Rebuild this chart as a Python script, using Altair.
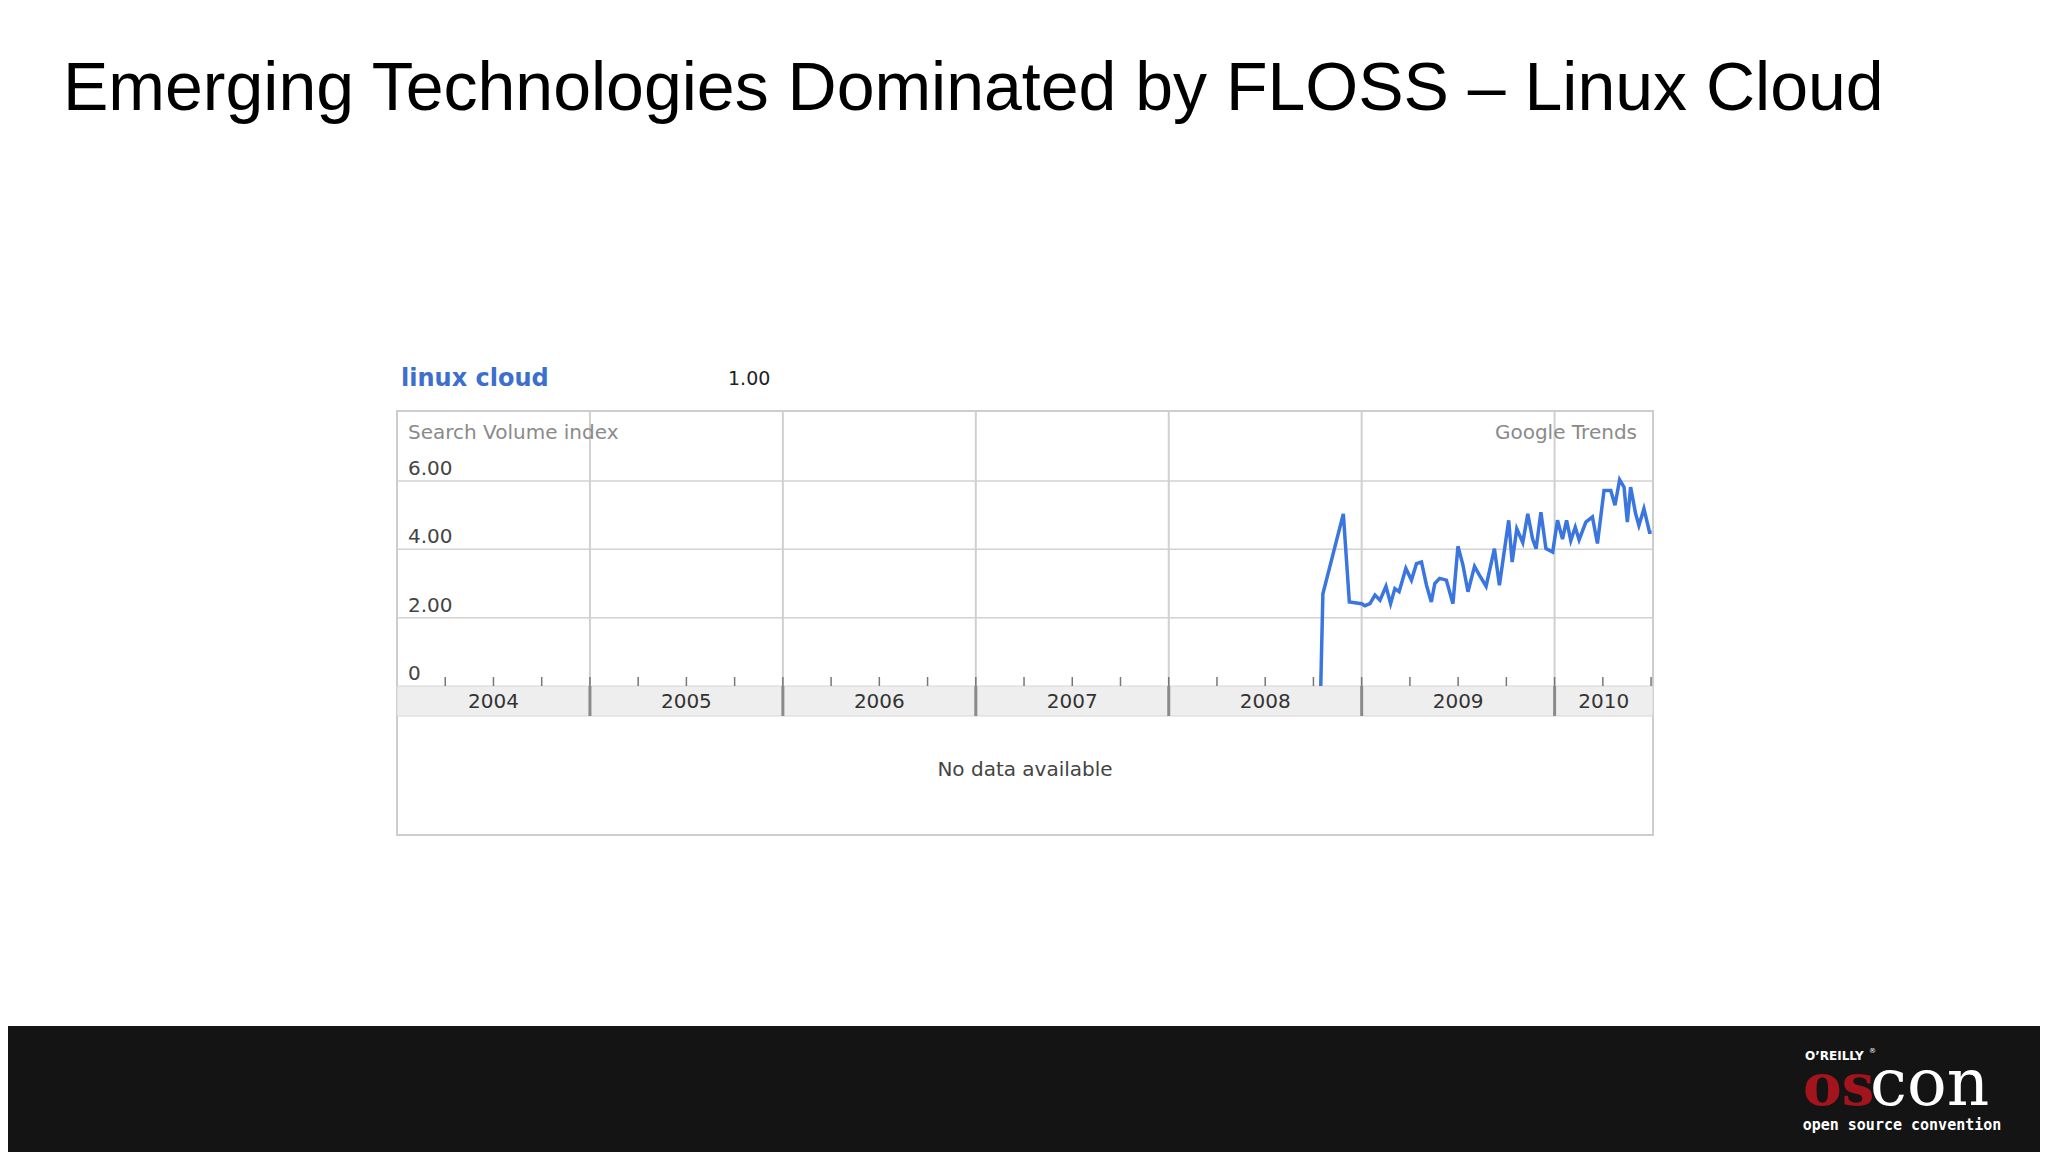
import altair as alt
import pandas as pd

# ---------------- data ----------------
year_starts = [2004, 2005, 2006, 2007, 2008, 2009, 2010]
year_ends = [2005, 2006, 2007, 2008, 2009, 2010, 2010.51]
year_labels = ["2004", "2005", "2006", "2007", "2008", "2009", "2010"]
year_boundaries = [2005, 2006, 2007, 2008, 2009, 2010]
quarter_ticks = [y + q / 4 for y in range(2004, 2011) for q in range(0, 4) if 2004 < y + q / 4 <= 2010.5]

y_ticks = [0, 2, 4, 6]
y_tick_labels = ["0", "2.00", "4.00", "6.00"]
grid_values = [2, 4, 6]

# decimal year of each observation, search volume index
dates = [2008.788, 2008.799, 2008.905, 2008.936, 2009.000, 2009.017, 2009.043, 2009.069,
         2009.095, 2009.126, 2009.150, 2009.172, 2009.194, 2009.229, 2009.258, 2009.284,
         2009.310, 2009.336, 2009.361, 2009.379, 2009.404, 2009.439, 2009.473, 2009.499,
         2009.525, 2009.551, 2009.585, 2009.611, 2009.645, 2009.688, 2009.714, 2009.762,
         2009.780, 2009.804, 2009.835, 2009.861, 2009.886, 2009.904, 2009.929, 2009.955,
         2009.990, 2010.015, 2010.041, 2010.062, 2010.084, 2010.107, 2010.127, 2010.162,
         2010.196, 2010.222, 2010.256, 2010.291, 2010.313, 2010.337, 2010.360, 2010.377,
         2010.394, 2010.420, 2010.437, 2010.463, 2010.492, 2010.503]
values = [0.00, 2.70, 5.04, 2.46, 2.41, 2.35, 2.41, 2.66,
          2.51, 2.92, 2.41, 2.85, 2.76, 3.44, 3.10, 3.58,
          3.63, 2.95, 2.46, 3.00, 3.15, 3.10, 2.41, 4.09,
          3.54, 2.76, 3.50, 3.24, 2.92, 4.02, 2.95, 4.85,
          3.63, 4.60, 4.20, 5.04, 4.30, 4.02, 5.09, 4.02,
          3.92, 4.85, 4.30, 4.85, 4.26, 4.65, 4.28, 4.80,
          4.95, 4.17, 5.72, 5.72, 5.29, 6.04, 5.82, 4.80,
          5.82, 5.04, 4.70, 5.19, 4.50, 4.50]

# ---------------- layout ----------------
W, H = 1256, 275
BOX_H = 424
SANS = "DejaVu Sans"

xs = alt.Scale(domain=[2004, 2010.51], nice=False, zero=False)
ys = alt.Scale(domain=[0, 8.05], nice=False, zero=True)

one = pd.DataFrame({"k": [0]})
df_line = pd.DataFrame({"t": dates, "v": values})
df_years = pd.DataFrame({"s": year_starts, "e": year_ends, "label": year_labels})
df_bound = pd.DataFrame({"b": year_boundaries})
df_q = pd.DataFrame({"q": quarter_ticks})
df_grid = pd.DataFrame({"g": grid_values})
df_yl = pd.DataFrame({"y": y_ticks, "label": y_tick_labels})

box = alt.Chart(one).mark_rect(fill="white", stroke="#cdcdcd", strokeWidth=2).encode(
    x=alt.value(0), x2=alt.value(W), y=alt.value(0), y2=alt.value(BOX_H))

footer = alt.Chart(one).mark_rect(fill="#141414").encode(
    x=alt.value(-389), x2=alt.value(1643), y=alt.value(615), y2=alt.value(745))

hgrid = alt.Chart(df_grid).mark_rule(color="#d2d2d2", strokeWidth=1.5).encode(
    y=alt.Y("g:Q", scale=ys, axis=None), x=alt.value(0), x2=alt.value(W))

vgrid = alt.Chart(df_bound).mark_rule(color="#d0d0d0", strokeWidth=2).encode(
    x=alt.X("b:Q", scale=xs, axis=None), y=alt.value(0), y2=alt.value(H))

band = alt.Chart(df_years).mark_rect(fill="#eeeeee", stroke="#d6d6d6", strokeWidth=1).encode(
    x=alt.X("s:Q", scale=xs, axis=None), x2="e:Q", y=alt.value(H), y2=alt.value(305))

band_sep = alt.Chart(df_bound).mark_rule(color="#8a8a8a", strokeWidth=3).encode(
    x=alt.X("b:Q", scale=xs, axis=None), y=alt.value(H), y2=alt.value(305))

qticks = alt.Chart(df_q).mark_rule(color="#777777", strokeWidth=1.5).encode(
    x=alt.X("q:Q", scale=xs, axis=None), y=alt.value(H - 9), y2=alt.value(H))

year_text = alt.Chart(df_years).transform_calculate(mid="(datum.s + datum.e) / 2").mark_text(
    font=SANS, fontSize=20, color="#333333", baseline="middle", align="center").encode(
    x=alt.X("mid:Q", scale=xs, axis=None), y=alt.value(291), text="label:N")

ylab = alt.Chart(df_yl).mark_text(
    font=SANS, fontSize=20, color="#444444", baseline="alphabetic", align="left", dy=-6).encode(
    x=alt.value(11), y=alt.Y("y:Q", scale=ys, axis=None), text="label:N")

line = alt.Chart(df_line).mark_line(color="#3a76de", strokeWidth=3.5, strokeJoin="miter").encode(
    x=alt.X("t:Q", scale=xs, axis=None), y=alt.Y("v:Q", scale=ys, axis=None))


def label(txt, x, y, size, color, font=SANS, weight="normal", align="left"):
    return alt.Chart(one).mark_text(
        text=txt, font=font, fontSize=size, color=color, fontWeight=weight,
        align=align, baseline="alphabetic").encode(x=alt.value(x), y=alt.value(y))


texts = [
    label("Emerging Technologies Dominated by FLOSS \u2013 Linux Cloud", -334, -301, 68, "#000000",
          font="Liberation Sans"),
    label("linux cloud", 4, -25, 24, "#3d6fcc", weight="bold"),
    label("1.00", 331, -26, 19, "#222222"),
    label("Search Volume index", 11, 28, 20, "#8a8a8a"),
    label("Google Trends", 1240, 28, 20, "#8a8a8a", align="right"),
    label("No data available", 628, 365, 20, "#444444", align="center"),
    label("O\u2019REILLY", 1408, 649, 12, "#ffffff", weight="bold"),
    label("\u00ae", 1472, 642, 7, "#ffffff"),
    label("os", 1406, 694, 58, "#a3141c", font="DejaVu Serif", weight="bold"),
    label("con", 1473, 694, 66, "#ffffff", font="DejaVu Serif"),
    label("open source convention", 1505, 719, 15, "#ffffff", font="DejaVu Sans Mono",
          weight="bold", align="center"),
]

chart = alt.layer(
    footer, box, hgrid, vgrid, band, band_sep, qticks, year_text, ylab, line, *texts
).properties(
    width=W, height=H,
    padding={"left": 389, "top": 403, "right": 387, "bottom": 466},
    autosize=alt.AutoSizeParams(type="none"),
    background="white",
).configure_view(strokeWidth=0)

chart.save("out.html", embed_options={"renderer": "svg", "actions": False})
